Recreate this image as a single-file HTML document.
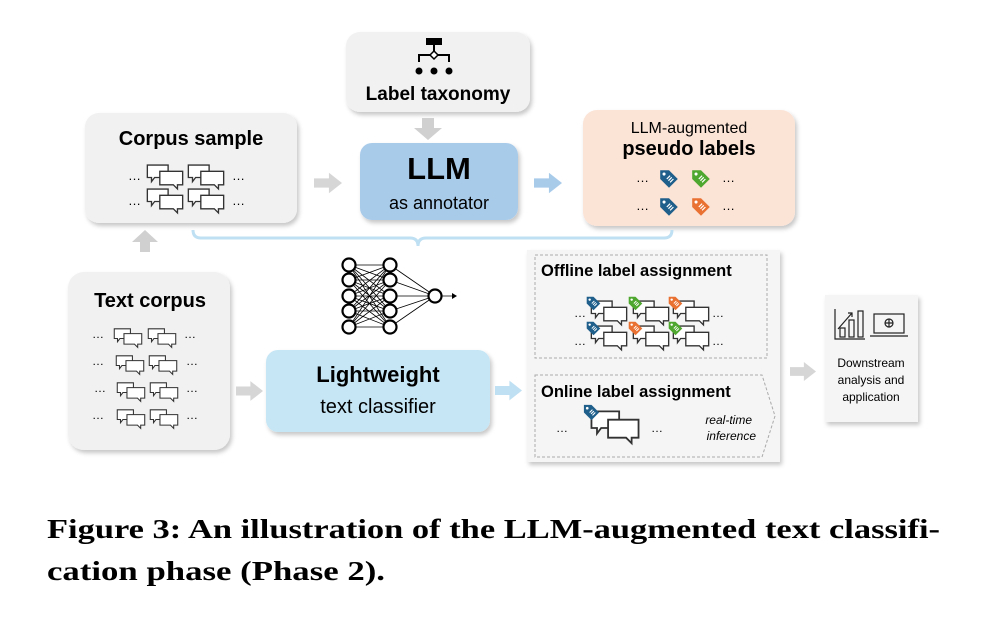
<!DOCTYPE html>
<html><head><meta charset="utf-8"><style>
html,body{margin:0;padding:0;background:#fff;}
svg{display:block;}
</style></head><body>
<svg width="984" height="634" viewBox="0 0 984 634" xmlns="http://www.w3.org/2000/svg" font-family="Liberation Sans, sans-serif">
<defs>
<filter id="sh" x="-10%" y="-10%" width="130%" height="130%"><feDropShadow dx="2" dy="3" stdDeviation="2" flood-color="#000" flood-opacity="0.22"/></filter>
<symbol id="bp" viewBox="0 0 36 26">
<path d="M1 1 H21 V13 H8 L5 17 V13 H1 Z" fill="#fff" stroke="#333" stroke-width="1.3"/>
<path d="M13 7 H35 V20 H30 V24 L26 20 H13 Z" fill="#fff" stroke="#333" stroke-width="1.3"/>
</symbol>
<symbol id="tag" viewBox="0 0 20 20">
<path d="M2 2 H10 L18 10 L10 18 L2 10 Z" fill="currentColor" transform="rotate(0 10 10)"/>
<circle cx="5.5" cy="5.5" r="1.4" fill="#fff"/>
<path d="M8 10 L11 7 M9.5 11.5 L12.5 8.5 M11 13 L14 10" stroke="#fff" stroke-width="1.1"/>
</symbol>
<symbol id="gArrR" viewBox="0 0 30 22"><path d="M0 6 H16 V0 L30 11 L16 22 V16 H0 Z"/></symbol>
</defs>

<!-- Label taxonomy -->
<rect x="346" y="32" width="184" height="80" rx="14" fill="#f1f1f1" filter="url(#sh)"/>
<rect x="426" y="38" width="16" height="7" fill="#000"/>
<path d="M434 45 V52 M419 62 V55 H449 V62" stroke="#000" stroke-width="2" fill="none"/>
<path d="M434 51 L438 55 L434 59 L430 55 Z" fill="#fff" stroke="#000" stroke-width="1.5"/>
<circle cx="419" cy="71" r="3.5"/><circle cx="434" cy="71" r="3.5"/><circle cx="449" cy="71" r="3.5"/>
<text x="438" y="100" font-size="19" font-weight="bold" text-anchor="middle">Label taxonomy</text>
<path d="M422 118 H434 V128 H442 L428 140 L414 128 H422 Z" fill="#d0d0d0"/>

<!-- Corpus sample -->
<rect x="85" y="113" width="212" height="110" rx="14" fill="#f1f1f1" filter="url(#sh)"/>
<text x="191" y="145" font-size="20" font-weight="bold" text-anchor="middle">Corpus sample</text>
<text x="128" y="180" font-size="13">…</text><text x="232" y="180" font-size="13">…</text>
<text x="128" y="205" font-size="13">…</text><text x="232" y="205" font-size="13">…</text>
<use href="#bp" x="146" y="164" width="38" height="27"/><use href="#bp" x="187" y="164" width="38" height="27"/>
<use href="#bp" x="146" y="188" width="38" height="27"/><use href="#bp" x="187" y="188" width="38" height="27"/>

<use href="#gArrR" x="314" y="172" width="28" height="22" fill="#d6d6d6"/>

<!-- LLM -->
<rect x="360" y="143" width="158" height="77" rx="12" fill="#a9cbea" filter="url(#sh)"/>
<text x="439" y="179" font-size="31" font-weight="bold" text-anchor="middle">LLM</text>
<text x="439" y="209" font-size="18" text-anchor="middle">as annotator</text>

<use href="#gArrR" x="534" y="172" width="28" height="22" fill="#a9cbea"/>

<!-- Pseudo labels -->
<rect x="583" y="110" width="212" height="116" rx="14" fill="#fbe3d6" filter="url(#sh)"/>
<text x="689" y="133" font-size="16" text-anchor="middle">LLM-augmented</text>
<text x="689" y="155" font-size="20" font-weight="bold" text-anchor="middle">pseudo labels</text>
<text x="636" y="182" font-size="13">…</text><text x="722" y="182" font-size="13">…</text>
<text x="636" y="210" font-size="13">…</text><text x="722" y="210" font-size="13">…</text>
<use href="#tag" x="658" y="168" width="22" height="22" color="#1f5f8b"/>
<use href="#tag" x="690" y="168" width="22" height="22" color="#4ea72e"/>
<use href="#tag" x="658" y="196" width="22" height="22" color="#1f5f8b"/>
<use href="#tag" x="690" y="196" width="22" height="22" color="#e97132"/>

<!-- bracket -->
<path d="M193 230 Q193 238 201 238 H410 Q418 238 418 246 Q418 238 426 238 H664 Q672 238 672 230" fill="none" stroke="#bfe0f2" stroke-width="3"/>
<path d="M140 252 V242 H132 L145 230 L158 242 H150 V252 Z" fill="#d0d0d0"/>

<!-- Text corpus -->
<rect x="68" y="272" width="162" height="178" rx="16" fill="#f1f1f1" filter="url(#sh)"/>
<text x="150" y="307" font-size="20" font-weight="bold" text-anchor="middle">Text corpus</text>
<g font-size="12">
<text x="92" y="338">…</text><text x="184" y="338">…</text>
<text x="92" y="365">…</text><text x="186" y="365">…</text>
<text x="94" y="392">…</text><text x="186" y="392">…</text>
<text x="92" y="419">…</text><text x="186" y="419">…</text>
</g>
<use href="#bp" x="113" y="328" width="30" height="21"/><use href="#bp" x="147" y="328" width="30" height="21"/>
<use href="#bp" x="115" y="355" width="30" height="21"/><use href="#bp" x="148" y="355" width="30" height="21"/>
<use href="#bp" x="116" y="382" width="30" height="21"/><use href="#bp" x="149" y="382" width="30" height="21"/>
<use href="#bp" x="116" y="409" width="30" height="21"/><use href="#bp" x="149" y="409" width="30" height="21"/>

<use href="#gArrR" x="236" y="381" width="27" height="20" fill="#d6d6d6"/>

<!-- neural net -->
<g stroke="#000" stroke-width="0.8">
<g id="lines">
<path d="M349 265 L390 265 M349 265 L390 280 M349 265 L390 296 M349 265 L390 311 M349 265 L390 327
M349 280 L390 265 M349 280 L390 280 M349 280 L390 296 M349 280 L390 311 M349 280 L390 327
M349 296 L390 265 M349 296 L390 280 M349 296 L390 296 M349 296 L390 311 M349 296 L390 327
M349 311 L390 265 M349 311 L390 280 M349 311 L390 296 M349 311 L390 311 M349 311 L390 327
M349 327 L390 265 M349 327 L390 280 M349 327 L390 296 M349 327 L390 311 M349 327 L390 327
M390 265 L435 296 M390 280 L435 296 M390 296 L435 296 M390 311 L435 296 M390 327 L435 296 M435 296 L452 296"/>
</g>
</g>
<path d="M452 293 L457 296 L452 299 Z"/>
<g fill="#fff" stroke="#000" stroke-width="2.2">
<circle cx="349" cy="265" r="6.5"/><circle cx="349" cy="280" r="6.5"/><circle cx="349" cy="296" r="6.5"/><circle cx="349" cy="311" r="6.5"/><circle cx="349" cy="327" r="6.5"/>
<circle cx="390" cy="265" r="6.5"/><circle cx="390" cy="280" r="6.5"/><circle cx="390" cy="296" r="6.5"/><circle cx="390" cy="311" r="6.5"/><circle cx="390" cy="327" r="6.5"/>
<circle cx="435" cy="296" r="6.5"/>
</g>

<!-- Lightweight -->
<rect x="266" y="350" width="224" height="82" rx="12" fill="#c6e6f5" filter="url(#sh)"/>
<text x="378" y="382" font-size="22" font-weight="bold" text-anchor="middle">Lightweight</text>
<text x="378" y="413" font-size="20" text-anchor="middle">text classifier</text>

<use href="#gArrR" x="495" y="380" width="27" height="21" fill="#bfe0f2"/>

<!-- Right panel -->
<rect x="527" y="250" width="253" height="212" fill="#f5f5f5" filter="url(#sh)"/>
<rect x="535" y="255" width="232" height="103" fill="none" stroke="#aaa" stroke-width="1" stroke-dasharray="3,2"/>
<text x="541" y="276" font-size="16.5" font-weight="bold">Offline label assignment</text>
<g font-size="12">
<text x="574" y="317">…</text><text x="712" y="317">…</text>
<text x="574" y="345">…</text><text x="712" y="345">…</text>
</g>
<use href="#bp" x="590" y="300" width="38" height="27"/><use href="#bp" x="632" y="300" width="38" height="27"/><use href="#bp" x="672" y="300" width="38" height="27"/>
<use href="#bp" x="590" y="325" width="38" height="27"/><use href="#bp" x="632" y="325" width="38" height="27"/><use href="#bp" x="672" y="325" width="38" height="27"/>
<use href="#tag" x="585" y="295" width="17" height="17" color="#1f5f8b"/>
<use href="#tag" x="627" y="295" width="17" height="17" color="#4ea72e"/>
<use href="#tag" x="667" y="295" width="17" height="17" color="#e97132"/>
<use href="#tag" x="585" y="320" width="17" height="17" color="#1f5f8b"/>
<use href="#tag" x="627" y="320" width="17" height="17" color="#e97132"/>
<use href="#tag" x="667" y="320" width="17" height="17" color="#4ea72e"/>

<path d="M535 375 H762 L775 416 L762 457 H535 Z" fill="none" stroke="#aaa" stroke-width="1" stroke-dasharray="3,2"/>
<text x="541" y="397" font-size="16.5" font-weight="bold">Online label assignment</text>
<text x="556" y="432" font-size="12">…</text><text x="651" y="432" font-size="12">…</text>
<use href="#bp" x="590" y="410" width="50" height="36"/>
<use href="#tag" x="582" y="403" width="19" height="19" color="#1f5f8b"/>
<text x="752" y="424" font-size="12" font-style="italic" text-anchor="end">real-time</text>
<text x="756" y="440" font-size="12" font-style="italic" text-anchor="end">inference</text>

<use href="#gArrR" x="790" y="361" width="26" height="21" fill="#d6d6d6"/>

<!-- Downstream -->
<rect x="825" y="295" width="93" height="127" fill="#f5f5f5" filter="url(#sh)"/>
<g fill="none" stroke="#222" stroke-width="1.2">
<path d="M835 309 V339 H865"/>
<rect x="840" y="328" width="5" height="9"/><rect x="849" y="320" width="5" height="17"/><rect x="858" y="311" width="5" height="26"/>
<path d="M838 329 L852 313 M848 313 H852 V317"/>
<rect x="874" y="314" width="30" height="19"/><path d="M870 336 H908"/>
<circle cx="889" cy="323" r="4"/><path d="M885 323 H893 M889 319 V327"/>
</g>
<text x="871" y="367" font-size="12" text-anchor="middle">Downstream</text>
<text x="871" y="384" font-size="12" text-anchor="middle">analysis and</text>
<text x="871" y="401" font-size="12" text-anchor="middle">application</text>

<!-- Caption -->
<text x="47" y="538" font-family="Liberation Serif, serif" font-size="27" font-weight="bold" textLength="893" lengthAdjust="spacingAndGlyphs">Figure 3: An illustration of the LLM-augmented text classifi-</text>
<text x="47" y="580" font-family="Liberation Serif, serif" font-size="27" font-weight="bold" textLength="338" lengthAdjust="spacingAndGlyphs">cation phase (Phase 2).</text>
</svg>
</body></html>
